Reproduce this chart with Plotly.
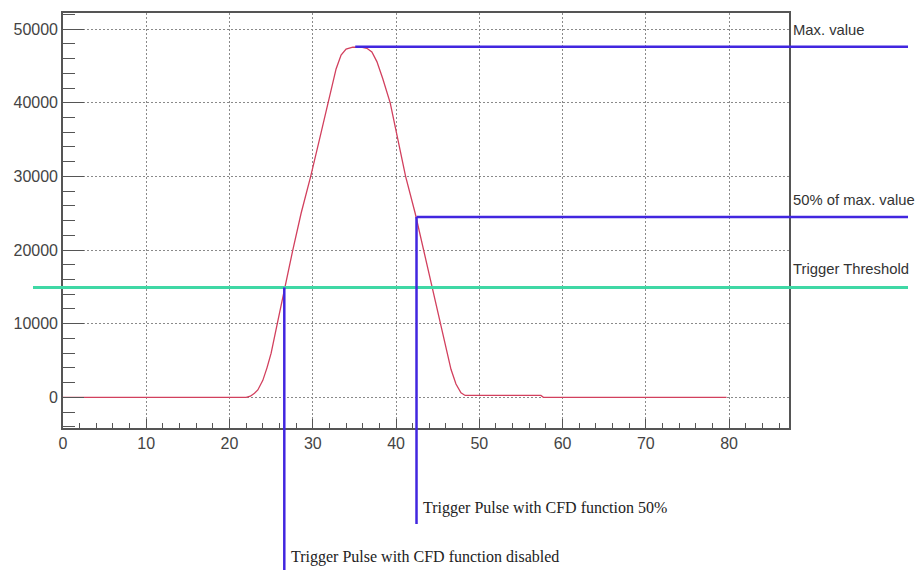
import plotly.graph_objects as go

# ---- data ----
time_ns = [0, 5, 10, 15, 20, 22.0, 22.5, 23.0, 23.4, 24.0, 24.5, 25.0, 25.7, 26.6,
           27.6, 28.6, 29.75, 30.8, 31.85, 32.8, 33.4, 34.0, 34.8, 35.8, 36.5,
           37.1, 37.7, 38.4, 39.3, 40.2, 41.15, 42.3, 43.3, 44.3, 45.3, 46.0, 46.6,
           47.2, 47.8, 48.3, 50, 55, 57.4, 57.7, 60, 65, 70, 75, 79.7]
amplitude = [0, 0, 0, 0, 0, 0, 150, 550, 1000, 2300, 4000, 6000, 9800, 14800,
             20000, 25000, 30000, 35000, 40000, 44600, 46500, 47300, 47550, 47550, 47400,
             46900, 45600, 43300, 40000, 35000, 30000, 25000, 20000, 15000, 10000, 6600, 3800,
             1800, 600, 250, 250, 250, 250, 0, 0, 0, 0, 0, 0]

x_ticks = [0, 10, 20, 30, 40, 50, 60, 70, 80]
y_ticks = [0, 10000, 20000, 30000, 40000, 50000]

max_value = 47600
cfd_level = 24500          # 50% of max. value (as drawn)
trigger_threshold = 14900
max_value_x = 35.1         # where the max. value marker starts
cfd50_x = 42.46            # trigger time with CFD 50%
cfd_disabled_x = 26.58     # trigger time with CFD disabled

labels_right = ["Max. value", "50% of max. value", "Trigger Threshold"]
label_cfd50 = "Trigger Pulse with CFD function 50%"
label_disabled = "Trigger Pulse with CFD function disabled"

# ---- layout geometry ----
W, H = 915, 570
ML, MR, MT, MB = 63, 126, 13, 142
XR = [0, 87.2]
YR = [-4170, 52200]
PW = W - ML - MR
PH = H - MT - MB


def xp(v):
    return (v - XR[0]) / (XR[1] - XR[0])


def yp(v):
    return (v - YR[0]) / (YR[1] - YR[0])


def px2xp(px):
    return (px - ML) / PW


def px2yp(py):
    return (H - MB - py) / PH


BLUE = "#4126df"
GREEN = "#3fd8a5"
RED = "#d2405e"

fig = go.Figure()
fig.add_trace(go.Scatter(x=time_ns, y=amplitude, mode="lines",
                         line=dict(color=RED, width=1.3), showlegend=False,
                         hoverinfo="skip"))

right_end = px2xp(908)
shapes = [
    dict(type="line", xref="paper", yref="paper", x0=xp(max_value_x), x1=right_end,
         y0=yp(max_value), y1=yp(max_value), line=dict(color=BLUE, width=2.5)),
    dict(type="line", xref="paper", yref="paper", x0=xp(cfd50_x), x1=right_end,
         y0=yp(cfd_level), y1=yp(cfd_level), line=dict(color=BLUE, width=2.5)),
    dict(type="line", xref="paper", yref="paper", x0=px2xp(33), x1=right_end,
         y0=yp(trigger_threshold), y1=yp(trigger_threshold), line=dict(color=GREEN, width=3)),
    dict(type="line", xref="paper", yref="paper", x0=xp(cfd50_x), x1=xp(cfd50_x),
         y0=yp(cfd_level), y1=px2yp(524), line=dict(color=BLUE, width=2.5)),
    dict(type="line", xref="paper", yref="paper", x0=xp(cfd_disabled_x), x1=xp(cfd_disabled_x),
         y0=yp(trigger_threshold), y1=px2yp(575), line=dict(color=BLUE, width=2.5)),
]

sans = dict(family="Liberation Sans, Arial, sans-serif", size=14.8, color="#333333")
serif = dict(family="Liberation Serif, Times New Roman, serif", size=16, color="#222222")
annotations = []
for txt, yv, ys in zip(labels_right, [max_value, cfd_level, trigger_threshold], [17, 17, 19]):
    annotations.append(dict(text=txt, xref="paper", yref="paper", x=px2xp(791), y=yp(yv),
                            yshift=ys, xanchor="left", yanchor="middle", showarrow=False,
                            font=sans))
annotations.append(dict(text=label_cfd50, xref="paper", yref="paper", x=xp(cfd50_x), xshift=4,
                        y=px2yp(508), xanchor="left", yanchor="middle", showarrow=False,
                        font=serif))
annotations.append(dict(text=label_disabled, xref="paper", yref="paper", x=xp(cfd_disabled_x),
                        xshift=5, y=px2yp(557), xanchor="left", yanchor="middle",
                        showarrow=False, font=serif))

axis_common = dict(showline=True, mirror=True, linecolor="#555555", linewidth=1.6,
                   showgrid=True, gridcolor="#8a8a8a", griddash="2px,2px", gridwidth=1,
                   zeroline=False, ticks="inside", tickcolor="#555555", tickwidth=1.3,
                   tickfont=dict(family="Liberation Sans, Arial, sans-serif", size=16,
                                 color="#444444"))

fig.update_layout(
    width=W, height=H,
    margin=dict(l=ML, r=MR, t=MT, b=MB, pad=0),
    paper_bgcolor="white", plot_bgcolor="white",
    xaxis=dict(range=XR, tickvals=x_ticks, ticklen=9, tickformat="d",
               minor=dict(dtick=2, tick0=0, ticks="inside", ticklen=5, tickcolor="#555555",
                          showgrid=False),
               **axis_common),
    yaxis=dict(range=YR, tickvals=y_ticks, ticklen=21, tickformat="d",
               minor=dict(dtick=2000, tick0=0, ticks="inside", ticklen=12, tickcolor="#555555",
                          showgrid=False),
               **axis_common),
    shapes=shapes,
    annotations=annotations,
)

fig.write_html("out.html")
